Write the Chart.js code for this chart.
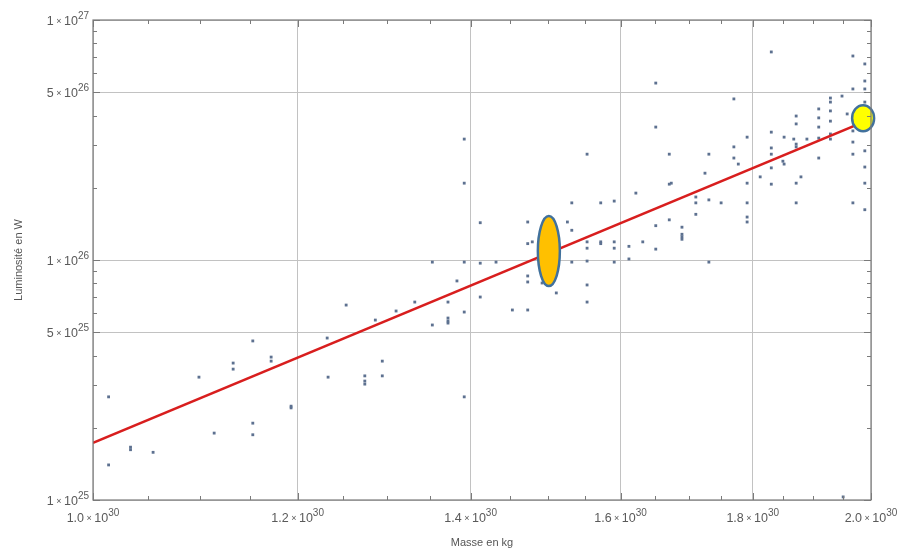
<!DOCTYPE html>
<html><head><meta charset="utf-8">
<script src="https://cdn.jsdelivr.net/npm/chart.js@4.4.1/dist/chart.umd.min.js"></script>
<style>html,body{margin:0;padding:0;background:#fff}#wrap{width:904px;height:552px}</style>
</head><body><div id="wrap"><canvas id="c" width="904" height="552"></canvas></div>
<script>
// Star masses (kg) and luminosities (W)
const starMass = [
1.014e30,1.014e30,1.034e30,1.034e30,1.055e30,1.099e30,1.114e30,1.133e30,1.133e30,1.153e30,
1.153e30,1.153e30,1.172e30,1.172e30,1.193e30,1.193e30,
1.392e30,1.392e30,1.412e30,1.353e30,1.392e30,1.412e30,1.432e30,1.383e30,1.412e30,1.253e30,
1.332e30,1.372e30,1.310e30,1.392e30,1.286e30,1.353e30,1.372e30,1.372e30,1.372e30,1.232e30,
1.294e30,1.233e30,1.274e30,1.274e30,1.274e30,1.294e30,1.392e30,
1.651e30,1.651e30,1.553e30,1.671e30,1.622e30,1.671e30,1.674e30,1.532e30,1.572e30,1.591e30,
1.711e30,1.711e30,1.711e30,1.473e30,1.526e30,1.532e30,1.651e30,1.671e30,1.690e30,1.690e30,
1.690e30,1.690e30,1.473e30,1.479e30,1.553e30,1.553e30,1.572e30,1.572e30,1.591e30,1.591e30,
1.612e30,1.632e30,1.651e30,1.532e30,1.553e30,1.591e30,1.612e30,1.473e30,1.473e30,1.492e30,
1.511e30,1.553e30,1.553e30,1.453e30,1.473e30,
1.731e30,1.951e30,
1.830e30,1.968e30,1.989e30,1.989e30,1.968e30,1.989e30,1.770e30,1.929e30,1.929e30,1.949e30,
1.989e30,1.909e30,1.929e30,1.958e30,1.871e30,1.909e30,1.929e30,1.871e30,1.909e30,1.968e30,
1.830e30,1.791e30,1.851e30,1.867e30,1.889e30,1.909e30,1.929e30,1.929e30,1.871e30,1.871e30,
1.968e30,1.770e30,1.830e30,1.989e30,1.731e30,1.830e30,1.968e30,1.770e30,1.909e30,1.849e30,
1.851e30,1.777e30,1.830e30,1.989e30,1.725e30,1.812e30,1.879e30,1.791e30,1.871e30,1.989e30,
1.830e30,1.731e30,1.750e30,1.791e30,1.871e30,1.968e30,1.989e30,1.791e30,1.791e30
];
const starLum = [
2.69e25,1.40e25,1.66e25,1.62e25,1.58e25,3.25e25,1.90e25,3.72e25,3.51e25,4.60e25,
2.09e25,1.87e25,3.94e25,3.79e25,2.46e25,2.42e25,
3.19e26,2.09e26,1.43e26,9.8e25,9.8e25,9.7e25,9.8e25,8.18e25,7.01e25,6.49e25,
6.68e25,6.68e25,6.13e25,6.07e25,5.62e25,5.36e25,5.73e25,5.57e25,5.46e25,4.73e25,
3.79e25,3.25e25,3.29e25,3.13e25,3.04e25,3.29e25,2.69e25,
5.46e26,3.58e26,2.76e26,2.76e26,1.90e26,2.07e26,2.09e26,1.73e26,1.73e26,1.76e26,
1.83e26,1.73e26,1.55e26,1.44e26,1.44e26,1.33e26,1.39e26,1.47e26,1.37e26,1.28e26,
1.25e26,1.22e26,1.17e26,1.19e26,1.19e26,1.12e26,1.19e26,1.17e26,1.19e26,1.12e26,
1.14e26,1.19e26,1.11e26,9.8e25,9.9e25,9.8e25,1.01e26,8.58e25,8.10e25,8.02e25,
7.29e25,7.87e25,6.68e25,6.19e25,6.19e25,
9.8e25,1.03e25,
7.36e26,7.08e26,6.56e26,5.57e26,5.16e26,5.16e26,4.69e26,4.73e26,4.55e26,4.82e26,
4.55e26,4.26e26,4.18e26,4.06e26,3.98e26,3.91e26,3.79e26,3.69e26,3.58e26,3.45e26,
3.41e26,3.25e26,3.25e26,3.19e26,3.19e26,3.22e26,3.19e26,3.35e26,3.04e26,2.96e26,
3.10e26,2.96e26,2.93e26,2.85e26,2.76e26,2.76e26,2.76e26,2.66e26,2.66e26,2.58e26,
2.51e26,2.51e26,2.42e26,2.44e26,2.30e26,2.22e26,2.22e26,2.09e26,2.09e26,2.09e26,
2.07e26,1.78e26,1.73e26,1.73e26,1.73e26,1.73e26,1.62e26,1.51e26,1.44e26
];
// Regression line (mass-luminosity relation)
const fitMass = [1.0e30, 2.0e30];
const fitLum = [1.73e25, 3.87e26];
// Highlighted stars
const highlightMass = [1.501e30, 1.986e30];
const highlightLum = [1.09e26, 3.9e26];
// Axis ticks
const xTickValues = [1.0e30, 1.2e30, 1.4e30, 1.6e30, 1.8e30, 2.0e30];
const xMinorValues = [1.05e30,1.1e30,1.15e30,1.25e30,1.3e30,1.35e30,1.45e30,1.5e30,1.55e30,1.65e30,1.7e30,1.75e30,1.85e30,1.9e30,1.95e30];
const yTickValues = [1e25, 5e25, 1e26, 5e26, 1e27];
const yMinorValues = [2e25,3e25,4e25,6e25,7e25,8e25,9e25,2e26,3e26,4e26,6e26,7e26,8e26,9e26];
const xTitle = 'Masse en kg';
const yTitle = 'Luminosité en W';

function sciParts(v, dec) {
  const e = Math.floor(Math.log10(v) + 1e-9);
  const m = v / Math.pow(10, e);
  return {mant: m.toFixed(dec), times: ' × ', ten: '10', exp: String(e)};
}
const FONT = "'Liberation Sans', Arial, sans-serif";

function drawSci(ctx, p, x, y, align) {
  const big = '12.5px ' + FONT, small = '9px ' + FONT, sup = '10px ' + FONT;
  ctx.font = big; const w1 = ctx.measureText(p.mant).width; const w3 = ctx.measureText(p.ten).width;
  ctx.font = small; const w2 = ctx.measureText(p.times).width;
  ctx.font = sup; const w4 = ctx.measureText(p.exp).width;
  const w = w1 + w2 + w3 + w4;
  let x0 = align === 'right' ? x - w : x - w / 2;
  ctx.textAlign = 'left';
  ctx.textBaseline = 'alphabetic';
  ctx.font = big; ctx.fillText(p.mant, x0, y);
  ctx.font = small; ctx.fillText(p.times, x0 + w1, y - 1);
  ctx.font = big; ctx.fillText(p.ten, x0 + w1 + w2, y);
  ctx.font = sup; ctx.fillText(p.exp, x0 + w1 + w2 + w3, y - 6);
}

const framePlugin = {
  id: 'frame',
  afterDatasetsDraw(chart) {
    const ctx = chart.ctx, a = chart.chartArea;
    const xs = chart.scales.x, ys = chart.scales.y;
    ctx.save();
    const shapes = [
      {rx: 11, ry: 35, fill: '#ffc000'},
      {rx: 11, ry: 13, fill: '#ffff00'}
    ];
    for (let i = 0; i < highlightMass.length; i++) {
      const px = xs.getPixelForValue(highlightMass[i]);
      const py = ys.getPixelForValue(highlightLum[i]);
      ctx.beginPath();
      ctx.ellipse(px, py, shapes[i].rx, shapes[i].ry, 0, 0, Math.PI * 2);
      ctx.fillStyle = shapes[i].fill;
      ctx.fill();
      ctx.lineWidth = 2.5;
      ctx.strokeStyle = '#41719c';
      ctx.stroke();
    }
    ctx.strokeStyle = '#7a7a7a';
    ctx.lineWidth = 1.2;
    ctx.strokeRect(a.left, a.top, a.right - a.left, a.bottom - a.top);
    ctx.lineWidth = 1;
    ctx.beginPath();
    const tick = (vals, len) => {
      vals.forEach(v => {
        const px = Math.round(xs.getPixelForValue(v)) + 0.5;
        ctx.moveTo(px, a.bottom); ctx.lineTo(px, a.bottom - len);
        ctx.moveTo(px, a.top); ctx.lineTo(px, a.top + len);
      });
    };
    const tickY = (vals, len) => {
      vals.forEach(v => {
        const py = Math.round(ys.getPixelForValue(v)) + 0.5;
        ctx.moveTo(a.left, py); ctx.lineTo(a.left + len, py);
        ctx.moveTo(a.right, py); ctx.lineTo(a.right - len, py);
      });
    };
    tick(xTickValues, 7); tick(xMinorValues, 4);
    tickY(yTickValues, 7); tickY(yMinorValues, 4);
    ctx.stroke();
    ctx.fillStyle = '#5a5a5a';
    xs.ticks.forEach(t => {
      drawSci(ctx, sciParts(t.value, 1), xs.getPixelForValue(t.value), a.bottom + 22, 'center');
    });
    ys.ticks.forEach(t => {
      drawSci(ctx, sciParts(t.value, 0), a.left - 4, ys.getPixelForValue(t.value) + 5, 'right');
    });
    ctx.restore();
  }
};

const labelFont = {family: FONT, size: 11};

new Chart(document.getElementById('c'), {
  data: {
    datasets: [
      {
        type: 'scatter',
        label: 'Étoiles',
        data: starMass.map((m, i) => ({x: m, y: starLum[i]})),
        pointStyle: 'rect',
        pointRadius: 2,
        pointBackgroundColor: '#5d7190',
        pointBorderWidth: 0,
        order: 2
      },
      {
        type: 'line',
        label: 'Ajustement',
        data: fitMass.map((m, i) => ({x: m, y: fitLum[i]})),
        borderColor: '#d81e1e',
        borderWidth: 2.6,
        pointRadius: 0,
        fill: false,
        order: 1
      }
    ]
  },
  options: {
    responsive: false,
    animation: false,
    devicePixelRatio: 1,
    layout: {padding: {top: 20, right: 33, left: 0, bottom: 0}},
    plugins: {legend: {display: false}, tooltip: {enabled: false}},
    scales: {
      x: {
        type: 'logarithmic',
        min: 1e30, max: 2e30,
        afterBuildTicks: s => { s.ticks = xTickValues.map(v => ({value: v})); },
        afterFit: s => { s.height = 52; },
        ticks: {display: false},
        grid: {color: '#c2c2c2', drawTicks: false, lineWidth: 1},
        border: {display: false},
        title: {display: true, text: xTitle, color: '#555', font: labelFont, padding: {top: 10, bottom: 2}}
      },
      y: {
        type: 'logarithmic',
        min: 1e25, max: 1e27,
        afterBuildTicks: s => { s.ticks = yTickValues.map(v => ({value: v})); },
        afterFit: s => { s.width = 93; },
        ticks: {display: false},
        grid: {color: '#c2c2c2', drawTicks: false, lineWidth: 1},
        border: {display: false},
        title: {display: true, text: yTitle, color: '#555', font: labelFont, padding: {top: 12, bottom: 4}}
      }
    }
  },
  plugins: [framePlugin]
});
</script>
</body></html>
